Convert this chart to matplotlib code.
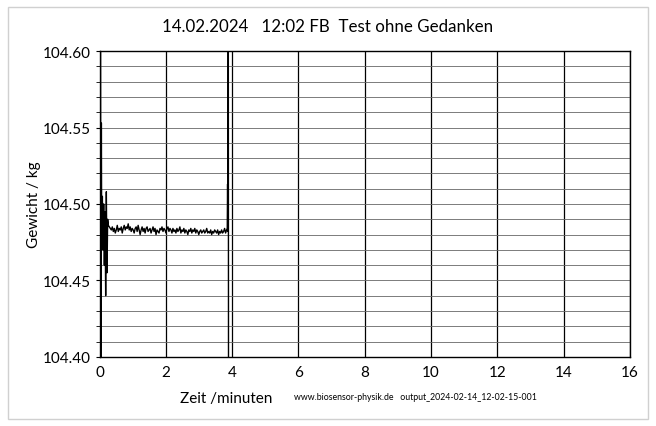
import matplotlib.pyplot as plt
from matplotlib.patches import Rectangle
from matplotlib.ticker import MultipleLocator

plt.rcParams["font.family"] = ["Lato", "DejaVu Sans"]

# start transient (minutes, kg)
t_start = [0.00, 0.02, 0.03, 0.05, 0.06, 0.08, 0.10, 0.12, 0.14, 0.16, 0.18, 0.20, 0.22, 0.24, 0.26]
w_start = [104.48, 104.70, 104.30, 104.553, 104.475, 104.505, 104.470, 104.500, 104.460, 104.495,
           104.440, 104.508, 104.455, 104.490, 104.486]

# steady part
t_mid = [0.29, 0.32, 0.35, 0.38, 0.41, 0.44, 0.47, 0.50, 0.53, 0.56, 0.59, 0.62, 0.65, 0.68,
         0.71, 0.74, 0.77, 0.80, 0.83, 0.86, 0.89, 0.92, 0.95, 0.98, 1.01, 1.04, 1.07, 1.10,
         1.13, 1.16, 1.19, 1.22, 1.25, 1.28, 1.31, 1.34, 1.37, 1.40, 1.43, 1.46, 1.49, 1.52,
         1.55, 1.58, 1.61, 1.64, 1.67, 1.70, 1.73, 1.76, 1.79, 1.82, 1.85, 1.88, 1.91, 1.94,
         1.97, 2.00, 2.03, 2.06, 2.09, 2.12, 2.15, 2.18, 2.21, 2.24, 2.27, 2.30, 2.33, 2.36,
         2.39, 2.42, 2.45, 2.48, 2.51, 2.54, 2.57, 2.60, 2.63, 2.66, 2.69, 2.72, 2.75, 2.78,
         2.81, 2.84, 2.87, 2.90, 2.93, 2.96, 2.99, 3.02, 3.05, 3.08, 3.11, 3.14, 3.17, 3.20,
         3.23, 3.26, 3.29, 3.32, 3.35, 3.38, 3.41, 3.44, 3.47, 3.50, 3.53, 3.56, 3.59, 3.62,
         3.65, 3.68, 3.71, 3.74, 3.77, 3.80, 3.83]
w_mid = [104.485, 104.484, 104.483, 104.485, 104.482, 104.484, 104.481, 104.483, 104.486, 104.482,
         104.484, 104.483, 104.485, 104.481, 104.484, 104.486, 104.483, 104.485, 104.484, 104.487,
         104.483, 104.485, 104.482, 104.484, 104.483, 104.481, 104.484, 104.485, 104.482, 104.486,
         104.483, 104.480, 104.483, 104.485, 104.482, 104.484, 104.481, 104.484, 104.485, 104.482,
         104.483, 104.484, 104.481, 104.483, 104.485, 104.482, 104.484, 104.480, 104.483, 104.482,
         104.481, 104.484, 104.483, 104.485, 104.482, 104.484, 104.483, 104.481, 104.484, 104.485,
         104.482, 104.484, 104.483, 104.481, 104.484, 104.482, 104.483, 104.481, 104.484, 104.482,
         104.483, 104.485, 104.481, 104.483, 104.482, 104.484, 104.481, 104.483, 104.482, 104.480,
         104.483, 104.482, 104.484, 104.481, 104.483, 104.482, 104.484, 104.481, 104.483, 104.482,
         104.480, 104.482, 104.483, 104.481, 104.482, 104.483, 104.481, 104.482, 104.484, 104.481,
         104.482, 104.481, 104.483, 104.480, 104.482, 104.481, 104.483, 104.482, 104.481, 104.483,
         104.480, 104.482, 104.481, 104.483, 104.481, 104.482, 104.484, 104.481, 104.483]

# end transient
t_end = [3.85, 3.86, 3.87, 3.88, 3.89, 3.90]
w_end = [104.484, 104.513, 104.482, 104.70, 104.30, 104.10]

t = t_start + t_mid + t_end
w = w_start + w_mid + w_end

fig = plt.figure(figsize=(6.56, 4.27), dpi=100)
ax = fig.add_axes([0.152, 0.162, 0.808, 0.716])

ax.plot(t, w, color="black", lw=1.0)

ax.set_xlim(0, 16)
ax.set_ylim(104.40, 104.60)
ax.xaxis.set_major_locator(MultipleLocator(2))
ax.yaxis.set_major_locator(MultipleLocator(0.05))
ax.yaxis.set_minor_locator(MultipleLocator(0.01))
ax.yaxis.set_major_formatter(plt.FormatStrFormatter("%.2f"))
ax.grid(True, which="both", axis="y", color="#666666", lw=0.6)
ax.grid(True, which="major", axis="x", color="black", lw=0.9)
ax.tick_params(axis="both", which="major", labelsize=11, length=3, color="black")
ax.tick_params(axis="y", which="minor", length=3)
ax.tick_params(axis="x", length=0, pad=6)
for s in ax.spines.values():
    s.set_color("black")
    s.set_linewidth(1.0)

fig.text(0.5, 0.937, "14.02.2024   12:02 FB  Test ohne Gedanken", ha="center", va="center", fontsize=12.2)
fig.text(0.345, 0.066, "Zeit /minuten", ha="center", va="center", fontsize=11)
fig.text(0.448, 0.068, "www.biosensor-physik.de   output_2024-02-14_12-02-15-001",
         ha="left", va="center", fontsize=6.3)
fig.text(0.052, 0.52, "Gewicht / kg", ha="center", va="center", rotation=90, fontsize=11)

fig.patches.append(Rectangle((0.012, 0.016), 0.976, 0.965, transform=fig.transFigure,
                             fill=False, edgecolor="#d0d0d0", lw=1.0))

fig.savefig("out.png", dpi=100)
